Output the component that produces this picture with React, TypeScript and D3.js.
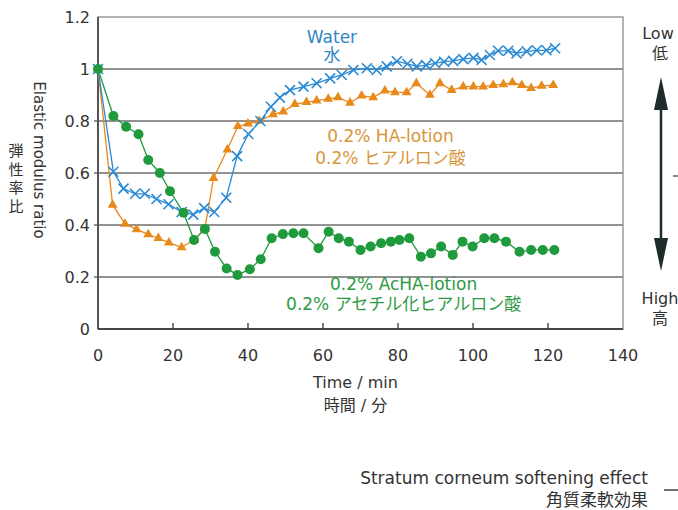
import * as d3 from 'd3'
import { useEffect, useRef } from 'react'

const xTicks = [0, 20, 40, 60, 80, 100, 120, 140]
const yTicks = [0, 0.2, 0.4, 0.6, 0.8, 1, 1.2]

// Water / 水
const waterTime = [0, 4.1, 6.8, 9.9, 12.5, 15.6, 18.8, 22.3, 25.4, 28.3, 31, 34.2, 37.1, 40.1, 43.3, 46.1, 48.5, 51.2, 54.8, 58.3, 61.9, 65, 68.1, 71.7, 74.3, 77, 79.7, 82.5, 85, 87.5, 89.9, 92.3, 94.7, 97.4, 100.1, 102.3, 104.5, 106.7, 109.4, 111.6, 114.3, 117, 119.6, 121.9]
const waterValue = [1, 0.605, 0.54, 0.52, 0.52, 0.5, 0.48, 0.45, 0.44, 0.465, 0.45, 0.505, 0.665, 0.75, 0.8, 0.855, 0.89, 0.919, 0.932, 0.945, 0.964, 0.977, 0.996, 1.003, 0.996, 1.01, 1.03, 1.02, 1.01, 1.015, 1.022, 1.028, 1.031, 1.038, 1.043, 1.035, 1.054, 1.07, 1.07, 1.06, 1.068, 1.072, 1.072, 1.08]

// 0.2% HA-lotion / ヒアルロン酸
const haTime = [0, 3.9, 7.2, 10.3, 13.4, 16.1, 18.9, 22.3, 25.6, 28.5, 30.8, 34.5, 37.3, 40, 43, 46.7, 49.4, 52.5, 55.6, 58.3, 61.4, 64, 67.2, 70.3, 73.4, 76.5, 79.2, 82.3, 84.9, 88.5, 91.2, 94.3, 97.4, 100.1, 102.7, 105.4, 108.1, 110.5, 113, 115.5, 118.3, 121.4]
const haValue = [1, 0.477, 0.404, 0.383, 0.364, 0.349, 0.332, 0.314, 0.342, 0.385, 0.58, 0.69, 0.78, 0.79, 0.8, 0.825, 0.836, 0.865, 0.872, 0.878, 0.885, 0.891, 0.87, 0.897, 0.891, 0.917, 0.91, 0.91, 0.945, 0.9, 0.945, 0.919, 0.932, 0.932, 0.932, 0.938, 0.941, 0.948, 0.938, 0.926, 0.935, 0.938]

// 0.2% AcHA-lotion / アセチル化ヒアルロン酸
const achaTime = [0, 4.1, 7.5, 10.8, 13.4, 16.5, 19.2, 22.8, 25.6, 28.5, 31.2, 34.3, 37.2, 40.5, 43.4, 46.3, 49.3, 52.1, 54.8, 58.8, 61.5, 64.2, 66.9, 70, 72.7, 75.5, 78.1, 80.4, 83, 86.1, 88.8, 91.5, 94.6, 97.2, 99.9, 103, 105.7, 108.8, 112.4, 115.5, 118.6, 121.7]
const achaValue = [1, 0.819, 0.778, 0.749, 0.65, 0.6, 0.53, 0.447, 0.342, 0.385, 0.297, 0.233, 0.208, 0.23, 0.268, 0.349, 0.365, 0.368, 0.368, 0.311, 0.374, 0.349, 0.336, 0.304, 0.317, 0.33, 0.336, 0.342, 0.349, 0.278, 0.291, 0.317, 0.285, 0.336, 0.317, 0.349, 0.349, 0.336, 0.297, 0.304, 0.304, 0.304]

const FONT = '"DejaVu Sans", "Noto Sans CJK JP", sans-serif'
const WATER = '#2a8ad4'
const HA = '#e8891c'
const ACHA = '#1f9a3c'

type Pt = { t: number; v: number }
const zip = (ts: number[], vs: number[]): Pt[] => ts.map((t, i) => ({ t, v: vs[i] }))

export default function App() {
  const svgRef = useRef<SVGSVGElement>(null)

  useEffect(() => {
    if (!svgRef.current) return
    const svg = d3.select(svgRef.current)
    svg.selectAll('*').remove()

    const margin = { top: 17, right: 55, bottom: 181, left: 98 }
    const W = 678
    const H = 510
    const x = d3.scaleLinear().domain([0, 140]).range([margin.left, W - margin.right])
    const y = d3.scaleLinear().domain([0, 1.2]).range([H - margin.bottom, margin.top])

    // gridlines
    svg
      .append('g')
      .selectAll('line')
      .data(yTicks.filter((d) => d > 0 && d < 1.2))
      .join('line')
      .attr('x1', x(0) - 4)
      .attr('x2', x(140))
      .attr('y1', (d) => y(d))
      .attr('y2', (d) => y(d))
      .attr('stroke', '#6e6e6e')
      .attr('stroke-width', 1.4)

    // frame
    svg
      .append('rect')
      .attr('x', x(0))
      .attr('y', y(1.2))
      .attr('width', x(140) - x(0))
      .attr('height', y(0) - y(1.2))
      .attr('fill', 'none')
      .attr('stroke', '#8a8a8a')
      .attr('stroke-width', 1.3)
    svg.append('line').attr('x1', x(0)).attr('x2', x(0)).attr('y1', y(1.2)).attr('y2', y(0)).attr('stroke', '#555').attr('stroke-width', 2)
    svg.append('line').attr('x1', x(0)).attr('x2', x(140)).attr('y1', y(0)).attr('y2', y(0)).attr('stroke', '#444').attr('stroke-width', 2)

    // x ticks (inward)
    svg
      .append('g')
      .selectAll('line')
      .data(xTicks.slice(1, -1))
      .join('line')
      .attr('x1', (d) => x(d))
      .attr('x2', (d) => x(d))
      .attr('y1', y(0))
      .attr('y2', y(0) - 6)
      .attr('stroke', '#444')
      .attr('stroke-width', 1.4)

    // tick labels
    svg
      .append('g')
      .selectAll('text')
      .data(xTicks)
      .join('text')
      .attr('x', (d) => x(d))
      .attr('y', y(0) + 32)
      .attr('text-anchor', 'middle')
      .attr('font-family', FONT)
      .attr('font-size', 16)
      .attr('fill', '#333')
      .text((d) => String(d))
    svg
      .append('g')
      .selectAll('text')
      .data(yTicks)
      .join('text')
      .attr('x', x(0) - 8)
      .attr('y', (d) => y(d))
      .attr('dy', '0.36em')
      .attr('text-anchor', 'end')
      .attr('font-family', FONT)
      .attr('font-size', 16)
      .attr('fill', '#333')
      .text((d) => (d === 0 || d === 1 ? String(d) : d.toFixed(1)))

    // axis titles
    svg
      .append('text')
      .attr('transform', `translate(34,${y(0.65)}) rotate(90)`)
      .attr('text-anchor', 'middle')
      .attr('font-family', FONT)
      .attr('font-size', 15)
      .attr('fill', '#333')
      .text('Elastic modulus ratio')
    '弾性率比'.split('').forEach((ch, i) => {
      svg
        .append('text')
        .attr('x', 16)
        .attr('y', 156 + i * 18.5)
        .attr('text-anchor', 'middle')
        .attr('font-family', FONT)
        .attr('font-size', 15)
        .attr('fill', '#333')
        .text(ch)
    })

    const midX = (x(0) + x(140)) / 2 - 5
    svg.append('text').attr('x', midX).attr('y', y(0) + 59).attr('text-anchor', 'middle').attr('font-family', FONT).attr('font-size', 16).attr('fill', '#333').text('Time / min')
    svg.append('text').attr('x', midX).attr('y', y(0) + 82).attr('text-anchor', 'middle').attr('font-family', FONT).attr('font-size', 16).attr('fill', '#333').text('時間 / 分')

    // series
    const line = d3
      .line<Pt>()
      .x((d) => x(d.t))
      .y((d) => y(d.v))

    const drawSeries = (data: Pt[], color: string, kind: 'x' | 'tri' | 'dot') => {
      const g = svg.append('g')
      g.append('path').datum(data).attr('fill', 'none').attr('stroke', color).attr('stroke-width', 1.3).attr('d', line)
      const marks = g
        .selectAll('g')
        .data(data)
        .join('g')
        .attr('transform', (d) => `translate(${x(d.t)},${y(d.v)})`)
      if (kind === 'x') {
        marks.append('path').attr('d', 'M-5,-5L5,5M-5,5L5,-5').attr('stroke', color).attr('stroke-width', 1.6).attr('fill', 'none')
      } else if (kind === 'tri') {
        marks.append('path').attr('d', d3.symbol().type(d3.symbolTriangle).size(42)()).attr('fill', color)
      } else {
        marks.append('circle').attr('r', 5).attr('fill', color)
      }
    }
    drawSeries(zip(haTime, haValue), HA, 'tri')
    drawSeries(zip(waterTime, waterValue), WATER, 'x')
    drawSeries(zip(achaTime, achaValue), ACHA, 'dot')

    // annotations
    const note = (t: number, v: number, txt: string, color: string, size = 17) =>
      svg
        .append('text')
        .attr('x', x(t))
        .attr('y', y(v))
        .attr('text-anchor', 'middle')
        .attr('font-family', FONT)
        .attr('font-size', size)
        .attr('fill', color)
        .text(txt)
    note(62.4, 1.1, 'Water', '#2f86c8')
    note(62.4, 1.03, '水', '#2f86c8')
    note(78, 0.72, '0.2% HA-lotion', '#d8963a')
    note(78, 0.635, '0.2% ヒアルロン酸', '#d8963a')
    note(81.5, 0.15, '0.2% AcHA-lotion', '#2e9b43')
    note(81.5, 0.072, '0.2% アセチル化ヒアルロン酸', '#2e9b43')

    // right side: softening scale
    const ax = 661
    const arrowColor = '#1d2b2b'
    svg.append('line').attr('x1', ax).attr('x2', ax).attr('y1', 100).attr('y2', 250).attr('stroke', arrowColor).attr('stroke-width', 2.5)
    svg.append('path').attr('d', `M${ax},77L${ax - 7},110L${ax + 7},110Z`).attr('fill', arrowColor)
    svg.append('path').attr('d', `M${ax},271L${ax - 7},238L${ax + 7},238Z`).attr('fill', arrowColor)
    svg.append('text').attr('x', 658).attr('y', 39).attr('font-family', FONT).attr('font-size', 16).attr('fill', '#333').text('Low').attr('text-anchor', 'middle')
    svg.append('text').attr('x', 660).attr('y', 59).attr('font-family', FONT).attr('font-size', 16).attr('fill', '#333').text('低').attr('text-anchor', 'middle')
    svg.append('text').attr('x', 660).attr('y', 304).attr('font-family', FONT).attr('font-size', 16).attr('fill', '#333').text('High').attr('text-anchor', 'middle')
    svg.append('text').attr('x', 660).attr('y', 324).attr('font-family', FONT).attr('font-size', 16).attr('fill', '#333').text('高').attr('text-anchor', 'middle')
    svg.append('line').attr('x1', 673).attr('x2', 678).attr('y1', 176).attr('y2', 176).attr('stroke', '#444').attr('stroke-width', 1.3)

    svg.append('text').attr('x', 648).attr('y', 484).attr('text-anchor', 'end').attr('font-family', FONT).attr('font-size', 17).attr('fill', '#333').text('Stratum corneum softening effect')
    svg.append('text').attr('x', 648).attr('y', 506).attr('text-anchor', 'end').attr('font-family', FONT).attr('font-size', 17).attr('fill', '#333').text('角質柔軟効果')
    svg.append('line').attr('x1', 664).attr('x2', 678).attr('y1', 490).attr('y2', 490).attr('stroke', '#444').attr('stroke-width', 1.5)
  }, [])

  return <svg ref={svgRef} width={678} height={510} style={{ position: 'absolute', left: 0, top: 0, background: '#fff' }} />
}
